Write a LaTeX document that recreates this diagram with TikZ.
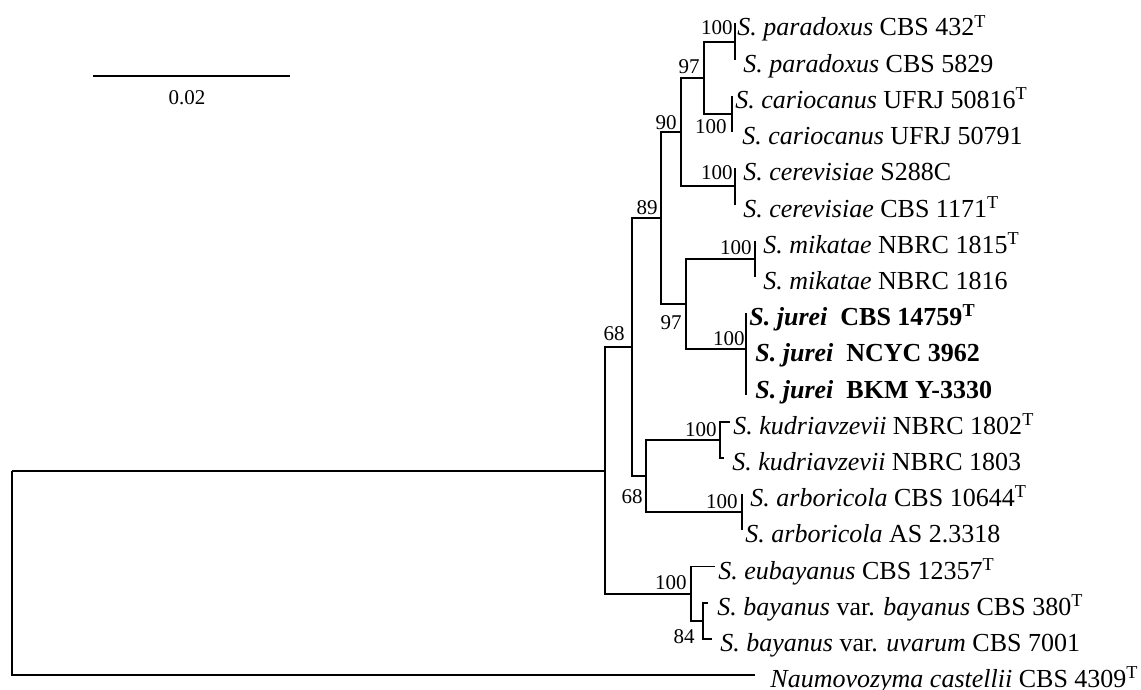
\documentclass[tikz,border=0pt]{standalone}
\usepackage{fontspec}
\setmainfont{Liberation Serif}
\usepackage{tikz}

\begin{document}
\begin{tikzpicture}[
    x=0.5pt, y=-0.5pt,
    font=\fontsize{10.5}{12}\selectfont,
    branch/.style={line width=0.95pt, black},
    taxon/.style={anchor=base west, inner sep=0pt, font=\fontsize{13}{15}\selectfont},
    boot/.style={anchor=east, inner sep=0pt}
]
\useasboundingbox (0,0) rectangle (1141,690);

\coordinate (par) at (735,42);
\coordinate (car) at (732,114);
\coordinate (pc) at (704,78);
\coordinate (cer) at (735,186);
\coordinate (pcc) at (681,132);
\coordinate (mik) at (755,259);
\coordinate (jur) at (746,349.3);
\coordinate (mj) at (686,304);
\coordinate (sens) at (661,218);
\coordinate (kud) at (720,440);
\coordinate (arb) at (742,512);
\coordinate (ka) at (646,476);
\coordinate (top) at (632,347);
\coordinate (bay) at (703,621);
\coordinate (eub) at (691,594);
\coordinate (ing) at (605,471);
\coordinate (root) at (12,471);

\coordinate (l01) at (735,23.5);
\coordinate (l02) at (735,59.7);
\coordinate (l03) at (732,95.9);
\coordinate (l04) at (732,132.1);
\coordinate (l05) at (735,168.3);
\coordinate (l06) at (735,204.5);
\coordinate (l07) at (755,240.7);
\coordinate (l08) at (755,276.9);
\coordinate (l09) at (746,313.1);
\coordinate (l10) at (746,349.3);
\coordinate (l11) at (746,395);
\coordinate (l12) at (730,421.7);
\coordinate (l13) at (724,457.9);
\coordinate (l14) at (742,494.1);
\coordinate (l15) at (742,530.3);
\coordinate (l16) at (715,566.5);
\coordinate (l17) at (708,602.7);
\coordinate (l18) at (712,638.9);
\coordinate (l19) at (755,675.1);

\node[taxon] (t01) at (737,36) {\textit{S. paradoxus} CBS 432\textsuperscript{T}};
\node[taxon] (t02) at (743,72.2) {\textit{S. paradoxus} CBS 5829};
\node[taxon] (t03) at (735,108.4) {\textit{S. cariocanus} UFRJ 50816\textsuperscript{T}};
\node[taxon] (t04) at (742,144.6) {\textit{S. cariocanus} UFRJ 50791};
\node[taxon] (t05) at (743,180.8) {\textit{S. cerevisiae} S288C};
\node[taxon] (t06) at (743,217) {\textit{S. cerevisiae} CBS 1171\textsuperscript{T}};
\node[taxon] (t07) at (763,253.2) {\textit{S. mikatae} NBRC 1815\textsuperscript{T}};
\node[taxon] (t08) at (763,289.4) {\textit{S. mikatae} NBRC 1816};
\node[taxon] (t09) at (749,325.6) {\textbf{\textit{S. jurei}\ \ CBS 14759\textsuperscript{T}}};
\node[taxon] (t10) at (755,361.8) {\textbf{\textit{S. jurei}\ \ NCYC 3962}};
\node[taxon] (t11) at (755,398) {\textbf{\textit{S. jurei}\ \ BKM Y-3330}};
\node[taxon] (t12) at (733,434.2) {\textit{S. kudriavzevii} NBRC 1802\textsuperscript{T}};
\node[taxon] (t13) at (732,470.4) {\textit{S. kudriavzevii} NBRC 1803};
\node[taxon] (t14) at (750,506.6) {\textit{S. arboricola} CBS 10644\textsuperscript{T}};
\node[taxon] (t15) at (745,542.8) {\textit{S. arboricola} AS 2.3318};
\node[taxon] (t16) at (718,579) {\textit{S. eubayanus} CBS 12357\textsuperscript{T}};
\node[taxon] (t17) at (717,615.2) {\textit{S. bayanus} var. \textit{bayanus} CBS 380\textsuperscript{T}};
\node[taxon] (t18) at (720,651.4) {\textit{S. bayanus} var. \textit{uvarum} CBS 7001};
\node[taxon] (t19) at (770,687.6) {\textit{Naumovozyma castellii} CBS 4309\textsuperscript{T}};

\node[boot] (b01) at (733,28) {100};
\node[boot] (b02) at (700,67) {97};
\node[boot] (b03) at (727,127) {100};
\node[boot] (b04) at (677,123) {90};
\node[boot] (b05) at (733,173) {100};
\node[boot] (b06) at (658,208) {89};
\node[boot] (b07) at (752,248) {100};
\node[boot] (b08) at (682,323) {97};
\node[boot] (b09) at (745,339) {100};
\node[boot] (b10) at (625,334) {68};
\node[boot] (b11) at (717,430) {100};
\node[boot] (b12) at (643,497) {68};
\node[boot] (b13) at (738,502) {100};
\node[boot] (b14) at (687,583) {100};
\node[boot] (b15) at (695,637) {84};

\draw[branch] (par) |- (l01);
\draw[branch] (par) |- (l02);
\draw[branch] (car) |- (l03);
\draw[branch] (car) |- (l04);
\draw[branch] (pc) |- (par);
\draw[branch] (pc) |- (car);
\draw[branch] (cer) |- (l05);
\draw[branch] (cer) |- (l06);
\draw[branch] (pcc) |- (pc);
\draw[branch] (pcc) |- (cer);
\draw[branch] (mik) |- (l07);
\draw[branch] (mik) |- (l08);
\draw[branch] (jur) |- (l09);
\draw[branch] (jur) |- (l11);
\draw[branch] (mj) |- (mik);
\draw[branch] (mj) |- (jur);
\draw[branch] (sens) |- (pcc);
\draw[branch] (sens) |- (mj);
\draw[branch] (kud) |- (l12);
\draw[branch] (kud) |- (l13);
\draw[branch] (arb) |- (l14);
\draw[branch] (arb) |- (l15);
\draw[branch] (ka) |- (kud);
\draw[branch] (ka) |- (arb);
\draw[branch] (top) |- (sens);
\draw[branch] (top) |- (ka);
\draw[branch] (bay) |- (l17);
\draw[branch] (bay) |- (l18);
\draw[branch] (eub) |- (l16);
\draw[branch] (eub) |- (bay);
\draw[branch] (ing) |- (top);
\draw[branch] (ing) |- (eub);
\draw[branch] (root) -- (ing);
\draw[branch] (root) |- (l19);

\coordinate (sbl) at (93,76);
\coordinate (sbr) at (290,76);
\draw[branch] (sbl) -- (sbr);
\node (sblabel) at (187,98) {0.02};

\end{tikzpicture}
\end{document}
